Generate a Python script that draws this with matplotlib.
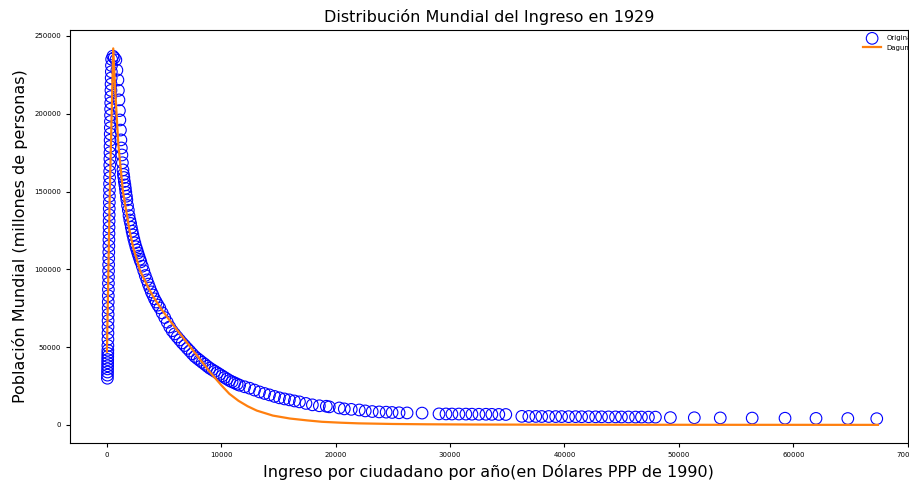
import matplotlib
matplotlib.use('Agg')
import matplotlib.pyplot as plt

# Datos (ingreso en dolares PPP 1990, poblacion)
# tramo ascendente (columna cerca de 0)
rise_x = [40, 45, 50, 55, 60, 62, 66, 70, 74, 78, 82, 86, 90, 95, 100,
          105, 110, 115, 120, 126, 132, 138, 144, 150, 156, 162, 168, 174,
          180, 186, 192, 198, 204, 210, 216, 222, 228, 234, 240, 248, 256,
          264, 272, 280, 288, 296, 304, 312, 320, 330, 340, 350, 360, 372,
          384, 396, 410]
rise_y = [30000, 32000, 34000, 36000, 38000, 40000, 42000, 44000, 46000,
          48000, 51000, 55000, 59000, 63000, 67000, 71000, 75000, 79000,
          83000, 87000, 91000, 95000, 99000, 103000, 107000, 111000, 115000,
          119000, 123000, 127000, 131000, 135000, 139000, 143000, 147000,
          151000, 155000, 159000, 163000, 167000, 171000, 175000, 179000,
          183000, 187000, 191000, 195000, 199000, 203000, 207000, 211000,
          215000, 219000, 223000, 227000, 231000, 235000]

# tramo descendente
fall_x = [520, 640, 780, 870, 960, 1000, 1050, 1090, 1130, 1180, 1220, 1260,
          1310, 1350, 1400, 1440, 1480, 1520, 1570, 1610, 1650, 1700, 1740,
          1800, 1870, 1930, 2000, 2070, 2130, 2200, 2270, 2350, 2440, 2530,
          2620, 2700, 2790, 2880, 2960, 3090, 3220, 3350, 3490, 3620, 3750,
          3880, 4010, 4160, 4310, 4460, 4620, 4830, 5050, 5270, 5490, 5700,
          5920, 6140, 6360, 6580, 6800, 7020, 7240, 7460, 7680, 7900, 8110,
          8330, 8550, 8770, 8980, 9200, 9420, 9640, 9850, 10070, 10280,
          10500, 10720, 10940, 11160, 11380, 11600, 12040, 12470, 12900,
          13340, 13780, 14210, 14650, 15080, 15520, 15950, 16390, 16830,
          17400, 17960, 18570, 19180, 19440, 20310, 20750, 21360, 22060,
          22580, 23190, 23800, 24410, 24930, 25540, 26240, 27550]
fall_y = [237000, 236000, 234600, 228000, 221700, 215000, 208900, 202000,
          196000, 189500, 183200, 178000, 173500, 168500, 163900, 161000,
          159000, 156500, 154200, 152000, 149500, 147000, 144600, 141000,
          138000, 134500, 131700, 129500, 127000, 124500, 122100, 119500,
          117000, 114500, 112500, 110500, 108500, 106500, 104800, 102000,
          99000, 96000, 93200, 90500, 88000, 85500, 83500, 81000, 79000,
          77000, 75200, 72000, 69000, 66000, 63000, 60500, 58500, 56500,
          54600, 52700, 51000, 49200, 47500, 45700, 44000, 42700, 41500,
          40200, 39000, 37700, 36500, 35500, 34500, 33500, 32500, 31500,
          30500, 29500, 28500, 27700, 27000, 26200, 25500, 24500, 23600,
          22400, 21200, 20200, 19300, 18300, 17400, 16700, 16100, 15400,
          14800, 13800, 12900, 12300, 12000, 11600, 10900, 10300, 10000,
          9600, 9000, 8600, 8350, 8200, 8000, 7800, 7700, 7600]

# cola
tail_x = [29030, 29640, 30160, 30770, 31380, 31910, 32520, 33130, 33650,
          34260, 34870, 36270, 36880, 37490, 38010, 38620, 39230, 39750,
          40360, 40970, 41500, 42110, 42720, 43240, 43850, 44460, 44980,
          45590, 46210, 46730, 47340, 47950, 49260, 51350, 53620, 56410,
          59280, 61990, 64770, 67300]
tail_y = [7100, 7050, 7000, 7000, 6950, 6900, 6850, 6850, 6800, 6750, 6700,
          5500, 5450, 5450, 5400, 5400, 5350, 5350, 5300, 5300, 5250, 5250,
          5200, 5200, 5150, 5150, 5100, 5100, 5050, 5050, 5000, 5000, 4700,
          4600, 4500, 4400, 4300, 4200, 4100, 4000]

# curva ajustada
fit_x = [0, 250, 550, 700, 1000, 1400, 2000, 2300, 2900, 3500, 4000, 4700,
         5500, 6400, 7300, 8100, 9000, 10000, 10700, 11500, 12300, 13100,
         14500, 16000, 17500, 18800, 20500, 22000, 25000, 28000, 32000,
         38000, 45000, 55000, 67400]
fit_y = [47000, 150000, 242000, 218000, 180000, 150000, 124000, 114000,
         99000, 90000, 83000, 75000, 67000, 58500, 50000, 42500, 34000,
         25500, 20000, 15500, 12000, 9200, 6000, 4100, 2900, 2000, 1400,
         1000, 600, 400, 250, 150, 100, 60, 30]

pop_x = rise_x + fall_x + tail_x
pop_y = rise_y + fall_y + tail_y

fig = plt.figure(figsize=(9.09, 4.82), dpi=100)
ax = fig.add_axes([0.077, 0.081, 0.9215, 0.857])

ax.scatter(pop_x, pop_y, s=70, facecolors='none', edgecolors='blue',
           linewidths=0.8, label='Original')
ax.plot(fit_x, fit_y, color='#ff7f0e', lw=1.6, label='Dagum')

ax.set_xlim(-3230, 70000)
ax.set_ylim(-11600, 253900)
ax.tick_params(labelsize=5, length=3)

ax.set_title('Distribución Mundial del Ingreso en 1929', fontsize=11.5)
ax.set_xlabel('Ingreso por ciudadano por año(en Dólares PPP de 1990)', fontsize=11.5)
ax.set_ylabel('Población Mundial (millones de personas)', fontsize=11.5)

ax.legend(loc='upper left', bbox_to_anchor=(0.943, 0.94),
          bbox_transform=fig.transFigure, fontsize=5, frameon=False,
          handlelength=2.5)

fig.savefig('out.png', dpi=100)
